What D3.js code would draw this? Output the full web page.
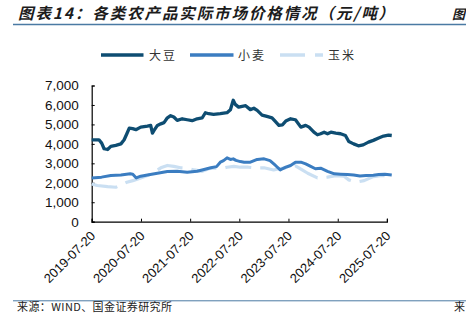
<!DOCTYPE html>
<html><head><meta charset="utf-8">
<script src="https://cdn.jsdelivr.net/npm/d3@7"></script>
<style>
html,body{margin:0;padding:0;background:#fff;}
svg{display:block;}
</style></head>
<body>
<svg id="chart" width="466" height="323"></svg>
<script>
const seriesNames = ["大豆", "小麦", "玉米"];
const xTickLabels = ["2019-07-20","2020-07-20","2021-07-20","2022-07-20","2023-07-20","2024-07-20","2025-07-20"];
const yTickValues = [0,1000,2000,3000,4000,5000,6000,7000];

const soyDates = ["2019-07-20","2019-09-12","2019-10-02","2019-10-20","2019-11-15","2019-12-09","2020-01-15","2020-02-22","2020-03-17","2020-04-06","2020-04-24","2020-05-19","2020-06-12","2020-07-18","2020-09-06","2020-09-30","2020-10-13","2020-10-25","2020-11-19","2020-12-14","2021-01-07","2021-02-01","2021-02-25","2021-03-21","2021-04-15","2021-05-22","2021-06-28","2021-08-04","2021-09-10","2021-10-17","2021-11-10","2021-12-05","2022-01-10","2022-03-01","2022-04-20","2022-05-15","2022-06-05","2022-06-20","2022-07-15","2022-08-10","2022-09-05","2022-10-10","2022-11-05","2022-11-30","2023-01-05","2023-02-10","2023-03-20","2023-04-15","2023-05-10","2023-06-05","2023-06-30","2023-08-05","2023-09-10","2023-10-20","2023-11-25","2023-12-20","2024-01-25","2024-02-20","2024-03-15","2024-04-10","2024-05-05","2024-05-30","2024-07-05","2024-08-10","2024-09-15","2024-10-10","2024-11-15","2024-12-20","2025-01-25","2025-03-05","2025-04-10","2025-05-20","2025-06-25","2025-08-01","2025-08-25"];
const soyValues = [4210,4210,4040,3750,3710,3870,3920,4000,4210,4520,4810,4780,4730,4860,4910,4950,4550,4690,4950,5030,5090,5340,5450,5380,5210,5290,5240,5190,5290,5330,5600,5550,5520,5550,5600,5750,6240,6030,5890,5930,5960,5760,5830,5720,5480,5410,5340,5140,4950,4980,5170,5290,5240,4860,4950,4860,4600,4470,4520,4600,4520,4600,4550,4520,4430,4120,4000,3900,3950,4090,4180,4300,4400,4450,4430];

const wheatDates = ["2019-07-20","2019-10-01","2019-12-09","2020-02-22","2020-05-01","2020-05-20","2020-06-15","2020-07-18","2020-09-06","2020-11-19","2021-02-01","2021-04-15","2021-06-28","2021-09-10","2021-10-17","2021-12-20","2022-02-01","2022-03-01","2022-03-25","2022-04-20","2022-05-15","2022-06-05","2022-06-25","2022-07-28","2022-08-25","2022-10-10","2022-11-30","2023-01-20","2023-03-05","2023-04-15","2023-05-20","2023-06-30","2023-08-05","2023-09-10","2023-10-20","2023-11-25","2024-01-01","2024-02-05","2024-03-15","2024-05-05","2024-06-25","2024-08-10","2024-09-30","2024-11-15","2025-01-01","2025-02-15","2025-04-10","2025-05-20","2025-07-05","2025-08-25"];
const wheatValues = [2250,2290,2370,2400,2460,2440,2250,2340,2400,2490,2580,2590,2540,2590,2660,2770,2830,3060,3140,3280,3200,3230,3150,3090,3060,3060,3200,3230,3140,2890,2660,2800,2890,3060,3060,2970,2840,2720,2750,2590,2460,2440,2420,2400,2350,2370,2390,2420,2440,2400];

const cornDates = ["2019-07-20","2019-08-30","2019-11-15","2020-01-15","2020-04-06","2020-05-20","2020-07-18","2020-09-06","2020-10-25","2020-12-14","2021-02-01","2021-03-21","2021-05-10","2021-06-28","2021-08-20","2021-10-17","2021-12-05","2022-01-20","2022-03-01","2022-04-20","2022-06-10","2022-07-28","2022-09-25","2022-11-05","2023-01-20","2023-04-01","2023-05-10","2023-06-30","2023-09-10","2023-10-30","2023-12-10","2024-02-20","2024-05-05","2024-07-05","2024-09-05","2024-10-10","2024-11-30","2025-02-01","2025-04-10","2025-06-01","2025-07-20","2025-08-25"];
const cornValues = [1940,1860,1800,1770,2030,2110,2250,2370,2540,2770,2890,2840,2770,2750,2660,2590,2720,2770,2720,2800,2840,2800,2800,2770,2770,2660,2720,2770,2870,2660,2490,2250,2290,2370,2340,2150,2030,2110,2320,2370,2370,2320];

const colors = ["#0e4d72", "#3b7dc1", "#cadff2"];

// ---------- layout ----------
const svg = d3.select("#chart");
const parse = d3.timeParse("%Y-%m-%d");
const x = d3.scaleTime()
  .domain([parse(xTickLabels[0]), parse(xTickLabels[xTickLabels.length-1])])
  .range([91.7, 386.9]);
const y = d3.scaleLinear().domain([0, 7000]).range([221.7, 85.5]);

const FONT_CJK = "'Noto Sans CJK SC', sans-serif";
const FONT_NUM = "'Liberation Sans', Arial, sans-serif";

// title
svg.append("text")
  .attr("x", 18).attr("y", 19)
  .attr("font-family", FONT_CJK).attr("font-size", 15.5).attr("font-weight", 700)
  .attr("font-style", "italic").attr("letter-spacing", 1.9)
  .attr("fill", "#1c1c1c")
  .text("图表14：各类农产品实际市场价格情况（元/吨）");
svg.append("text")
  .attr("x", 452).attr("y", 19)
  .attr("font-family", FONT_CJK).attr("font-size", 13).attr("font-weight", 700)
  .attr("font-style", "italic").attr("fill", "#1c1c1c")
  .text("图");
svg.append("line").attr("x1", 13).attr("x2", 466).attr("y1", 24.5).attr("y2", 24.5)
  .attr("stroke", "#4a7aa3").attr("stroke-width", 1.5);

// footer
svg.append("line").attr("x1", 13).attr("x2", 466).attr("y1", 300.8).attr("y2", 300.8)
  .attr("stroke", "#4a7aa3").attr("stroke-width", 1);
svg.append("text")
  .attr("x", 17).attr("y", 311)
  .attr("font-family", FONT_CJK).attr("font-size", 11).attr("letter-spacing", 0.4)
  .attr("fill", "#222")
  .text("来源：WIND、国金证券研究所");
svg.append("text")
  .attr("x", 454).attr("y", 311)
  .attr("font-family", FONT_CJK).attr("font-size", 11)
  .attr("fill", "#222")
  .text("来");

// legend
const legendItems = [
  {x1: 101, x2: 143.5, tx: 149, dash: null, w: 3.5},
  {x1: 190, x2: 233.5, tx: 238, dash: null, w: 3.5},
  {x1: 280, x2: 323, tx: 328, dash: "25,10", w: 3.5}
];
legendItems.forEach((d, i) => {
  svg.append("line").attr("x1", d.x1).attr("x2", d.x2).attr("y1", 55).attr("y2", 55)
    .attr("stroke", colors[i]).attr("stroke-width", d.w)
    .attr("stroke-dasharray", d.dash);
  svg.append("text").attr("x", d.tx).attr("y", 59.5)
    .attr("font-family", FONT_CJK).attr("font-size", 12).attr("letter-spacing", 2)
    .attr("fill", "#333").text(seriesNames[i]);
});

// axes
const yAxis = d3.axisLeft(y).tickValues(yTickValues).tickSize(-3).tickPadding(13)
  .tickFormat(d3.format(","));
const gy = svg.append("g").attr("transform", "translate(91.7,0)").call(yAxis);
gy.select(".domain").attr("stroke", "#000").attr("stroke-width", 1.2);
gy.selectAll(".tick line").attr("stroke", "#000");
gy.selectAll(".tick text").attr("font-family", FONT_NUM).attr("font-size", 13.5).attr("fill", "#111");

const xAxis = d3.axisBottom(x).tickValues(xTickLabels.map(parse)).tickSize(-3)
  .tickFormat(d3.timeFormat("%Y-%m-%d"));
const gx = svg.append("g").attr("transform", "translate(0,221.7)").call(xAxis);
gx.select(".domain").attr("stroke", "#000").attr("stroke-width", 1.2);
gx.selectAll(".tick line").attr("stroke", "#000");
gx.selectAll(".tick text")
  .attr("font-family", FONT_NUM).attr("font-size", 13).attr("fill", "#111")
  .attr("text-anchor", "end").attr("dy", null).attr("y", 0).attr("x", 0)
  .attr("transform", "translate(4,15) rotate(-45)");

// lines
const line = d3.line().x(d => x(d.date)).y(d => y(d.value)).curve(d3.curveLinear);
const zip = (ds, vs) => ds.map((d, i) => ({date: parse(d), value: vs[i]}));

svg.append("path").datum(zip(cornDates, cornValues))
  .attr("fill", "none").attr("stroke", colors[2]).attr("stroke-width", 3.2)
  .attr("stroke-dasharray", "26,9").attr("stroke-linejoin", "round")
  .attr("d", line);
svg.append("path").datum(zip(wheatDates, wheatValues))
  .attr("fill", "none").attr("stroke", colors[1]).attr("stroke-width", 3)
  .attr("stroke-linejoin", "round").attr("d", line);
svg.append("path").datum(zip(soyDates, soyValues))
  .attr("fill", "none").attr("stroke", colors[0]).attr("stroke-width", 3.3)
  .attr("stroke-linejoin", "round").attr("d", line);
</script>
</body></html>
